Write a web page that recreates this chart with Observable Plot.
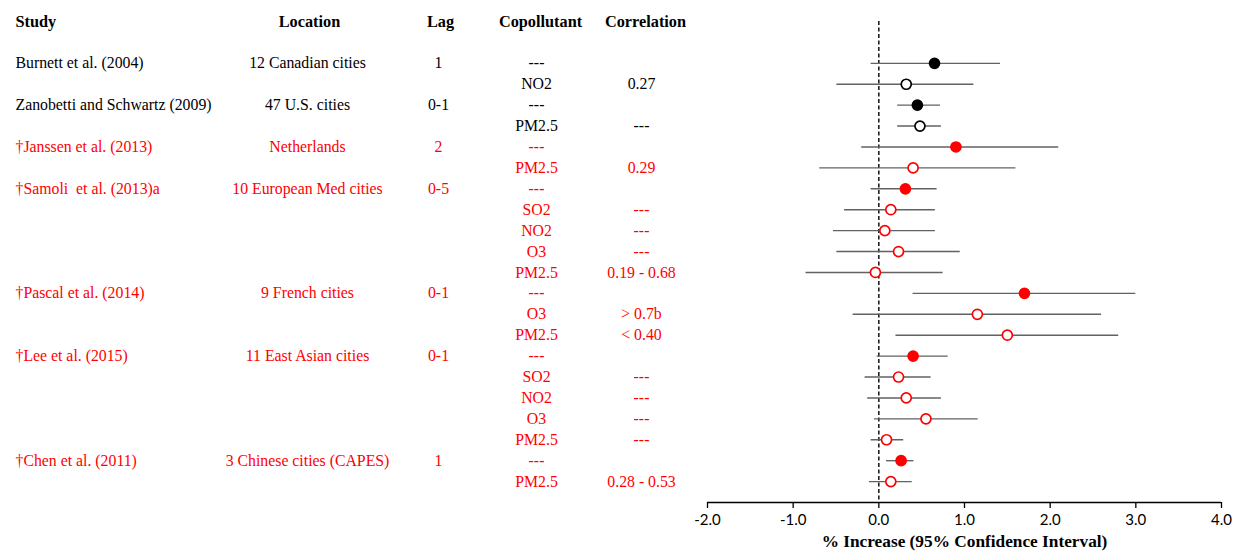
<!DOCTYPE html>
<html>
<head>
<meta charset="utf-8">
<script src="https://cdn.jsdelivr.net/npm/d3@7"></script>
<script src="https://cdn.jsdelivr.net/npm/@observablehq/plot@0.6"></script>
<style>
  html, body { margin: 0; padding: 0; background: #fff; }
  #chart svg { display: block; }
</style>
</head>
<body>
<div id="chart"></div>
<script>
// ---- data ----
const headers = ["Study", "Location", "Lag", "Copollutant", "Correlation"];
const studies = ["Burnett et al. (2004)", "Zanobetti and Schwartz (2009)", "†Janssen et al. (2013)",
  "†Samoli  et al. (2013)a", "†Pascal et al. (2014)", "†Lee et al. (2015)", "†Chen et al. (2011)"];
const locations = ["12 Canadian cities", "47 U.S. cities", "Netherlands", "10 European Med cities",
  "9 French cities", "11 East Asian cities", "3 Chinese cities (CAPES)"];
const lags = ["1", "0-1", "2", "0-5", "0-1", "0-1", "1"];
const studyGroup = ["other", "other", "dagger", "dagger", "dagger", "dagger", "dagger"];

const rowStudy = [0, 0, 1, 1, 2, 2, 3, 3, 3, 3, 3, 4, 4, 4, 5, 5, 5, 5, 5, 6, 6];
const copollutants = ["---", "NO2", "---", "PM2.5", "---", "PM2.5", "---", "SO2", "NO2", "O3", "PM2.5",
  "---", "O3", "PM2.5", "---", "SO2", "NO2", "O3", "PM2.5", "---", "PM2.5"];
const correlations = ["", "0.27", "", "---", "", "0.29", "", "---", "---", "---", "0.19 - 0.68",
  "", "> 0.7b", "< 0.40", "", "---", "---", "---", "---", "", "0.28 - 0.53"];
const estimates = [0.65, 0.32, 0.45, 0.48, 0.90, 0.40, 0.31, 0.14, 0.07, 0.23, -0.04,
  1.70, 1.15, 1.50, 0.40, 0.23, 0.32, 0.55, 0.09, 0.26, 0.14];
const lower = [-0.09, -0.49, 0.22, 0.22, -0.20, -0.69, -0.09, -0.40, -0.53, -0.49, -0.85,
  0.40, -0.30, 0.20, -0.02, -0.16, -0.13, -0.05, -0.09, 0.09, -0.11];
const upper = [1.42, 1.11, 0.72, 0.73, 2.10, 1.60, 0.68, 0.66, 0.66, 0.95, 0.75,
  3.00, 2.60, 2.80, 0.81, 0.61, 0.73, 1.16, 0.29, 0.41, 0.39];

const xDomain = [-2, 4];
const xTicks = [-2, -1, 0, 1, 2, 3, 4];
const xLabel = "% Increase (95% Confidence Interval)";

// ---- styles ----
const palette = {other: "#000000", dagger: "#ff0000"};
const serif = "'Liberation Serif', 'Times New Roman', serif";
const bodySize = 15.8, headSize = 16.3;

// ---- derived tables ----
const rows = rowStudy.map((s, i) => ({
  i,
  study: s,
  first: rowStudy.indexOf(s) === i,
  copol: copollutants[i],
  corr: correlations[i],
  est: estimates[i],
  lo: lower[i],
  hi: upper[i],
  color: palette[studyGroup[s]],
  single: copollutants[i] === "---"
}));
const studyRows = rows.filter(d => d.first).map(d => ({
  i: d.i, color: d.color, name: studies[d.study], loc: locations[d.study], lag: lags[d.study]
}));
const headerRow = -2;
const axisRow = rows.length; // frame bottom

const W = 1235, H = 554;
const mLeft = 707, mRight = 14, mTop = 21, mBottom = 52;

// column offsets from the frame's left edge
const col = {study: -692, location: -400, lag: -269, copol: -171, corr: -66};
const headOff = {study: -692, location: -398, lag: -267, copol: -167, corr: -62};

const textCol = (data, key, dx, anchor) => Plot.text(data, {
  y: "i", text: key, fill: "color", frameAnchor: "left", dx, textAnchor: anchor,
  fontSize: bodySize, fontFamily: serif
});
const headText = (t, dx, anchor) => Plot.text([t], {
  y: headerRow, frameAnchor: "left", dx, textAnchor: anchor,
  fontWeight: "bold", fontSize: headSize, fontFamily: serif
});

const chart = Plot.plot({
  width: W, height: H,
  marginLeft: mLeft, marginRight: mRight, marginTop: mTop, marginBottom: mBottom,
  x: {domain: xDomain},
  y: {domain: [headerRow, axisRow], reverse: true, axis: null},
  marks: [
    // header
    headText(headers[0], headOff.study, "start"),
    headText(headers[1], headOff.location, "middle"),
    headText(headers[2], headOff.lag, "middle"),
    headText(headers[3], headOff.copol, "middle"),
    headText(headers[4], headOff.corr, "middle"),
    // table columns
    textCol(studyRows, "name", col.study, "start"),
    textCol(studyRows, "loc", col.location, "middle"),
    textCol(studyRows, "lag", col.lag, "middle"),
    textCol(rows, "copol", col.copol, "middle"),
    textCol(rows, "corr", col.corr, "middle"),
    // null line
    Plot.ruleX([0], {y1: headerRow, y2: axisRow, stroke: "#000", strokeWidth: 1.4, strokeDasharray: "4,2.5"}),
    // confidence intervals
    Plot.ruleY(rows, {y: "i", x1: "lo", x2: "hi", stroke: "#626262", strokeWidth: 1.4}),
    // estimates
    Plot.dot(rows, {x: "est", y: "i", r: 5, fill: d => d.single ? d.color : "#ffffff", stroke: "color", strokeWidth: 1.7}),
    // x axis
    Plot.ruleY([axisRow], {x1: xDomain[0], x2: xDomain[1], stroke: "#000", strokeWidth: 1.3}),
    Plot.axisX(xTicks, {tickFormat: d => d.toFixed(1), tickSize: 6, tickPadding: 6, fontSize: 15, fontFamily: "Lato, 'Open Sans', sans-serif", stroke: "#000", strokeWidth: 1.3, label: null}),
    Plot.text([xLabel], {frameAnchor: "bottom", dy: 44, fontWeight: "bold", fontSize: 17.3, fontFamily: serif})
  ]
});
document.getElementById("chart").appendChild(chart);
</script>
</body>
</html>
